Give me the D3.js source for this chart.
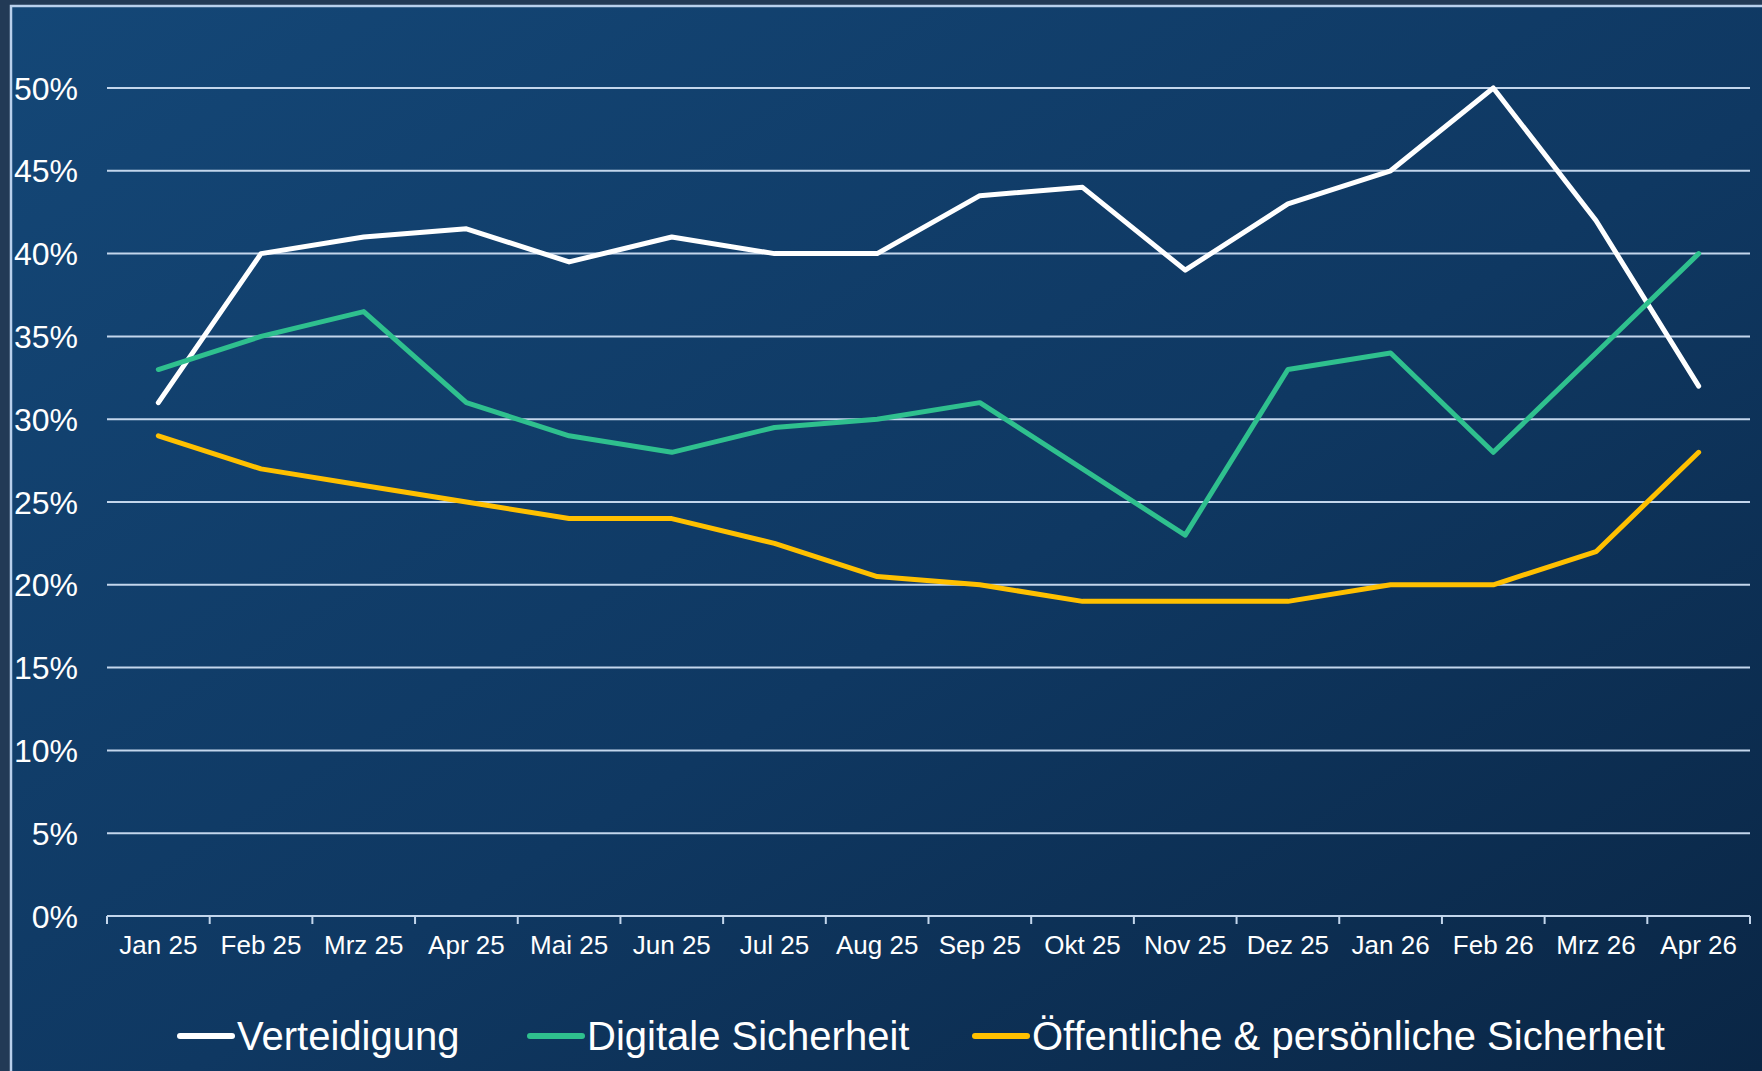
<!DOCTYPE html>
<html>
<head>
<meta charset="utf-8">
<script src="https://cdn.jsdelivr.net/npm/d3@7"></script>
<style>
  html, body { margin: 0; padding: 0; background: #223a56; overflow: hidden; }
  text { font-family: "Liberation Sans", Arial, sans-serif; fill: #ffffff; }
</style>
</head>
<body>
<script>
"use strict";

(function() {

let width = 1762;
let height = 1071;

// data
let months = ['Jan 25', 'Feb 25', 'Mrz 25', 'Apr 25', 'Mai 25', 'Jun 25', 'Jul 25', 'Aug 25',
              'Sep 25', 'Okt 25', 'Nov 25', 'Dez 25', 'Jan 26', 'Feb 26', 'Mrz 26', 'Apr 26'];
let verteidigung = [31, 40, 41, 41.5, 39.5, 41, 40, 40, 43.5, 44, 39, 43, 45, 50, 42, 32];
let digitale = [33, 35, 36.5, 31, 29, 28, 29.5, 30, 31, 27, 23, 33, 34, 28, 34, 40];
let oeffentliche = [29, 27, 26, 25, 24, 24, 22.5, 20.5, 20, 19, 19, 19, 20, 20, 22, 28];
let yTicks = [0, 5, 10, 15, 20, 25, 30, 35, 40, 45, 50];

let series = [
    { name: 'Verteidigung', values: verteidigung, color: '#ffffff' },
    { name: 'Digitale Sicherheit', values: digitale, color: '#2fc08e' },
    { name: 'Öffentliche & persönliche Sicherheit', values: oeffentliche, color: '#ffc000' }
];

let svg = d3.select('body')
    .append('svg')
    .attr('width', width)
    .attr('height', height);

let defs = svg.append('defs');
let grad = defs.append('linearGradient')
    .attr('id', 'bg')
    .attr('x1', '0%').attr('y1', '0%')
    .attr('x2', '100%').attr('y2', '100%');
grad.append('stop').attr('offset', '0%').attr('stop-color', '#144777');
grad.append('stop').attr('offset', '55%').attr('stop-color', '#0f3862');
grad.append('stop').attr('offset', '100%').attr('stop-color', '#0a2645');

// panel with a thin light frame on top and left
svg.append('rect')
    .attr('x', 11).attr('y', 6)
    .attr('width', width - 11).attr('height', height - 6)
    .attr('fill', 'url(#bg)');
svg.append('path')
    .attr('d', 'M11,' + height + 'V6H' + width)
    .attr('fill', 'none')
    .attr('stroke', '#b9d0ec')
    .attr('stroke-width', 2.5);

let margin = { left: 107, right: 12, top: 88, bottom: 155 };
let plotW = width - margin.left - margin.right;
let plotH = height - margin.top - margin.bottom;

let x = d3.scaleBand()
    .domain(months)
    .range([0, plotW]);

let y = d3.scaleLinear()
    .domain([0, 50])
    .range([plotH, 0]);

let g = svg.append('g')
    .attr('transform', 'translate(' + margin.left + ',' + margin.top + ')');

// gridlines
g.selectAll('.grid')
    .data(yTicks.filter(function(d) { return d > 0; }))
    .enter()
    .append('line')
    .attr('class', 'grid')
    .attr('x1', 0).attr('x2', plotW)
    .attr('y1', function(d) { return y(d); })
    .attr('y2', function(d) { return y(d); })
    .attr('stroke', '#c3d6ec')
    .attr('stroke-width', 2);

// y labels
g.selectAll('.ylab')
    .data(yTicks)
    .enter()
    .append('text')
    .attr('class', 'ylab')
    .attr('x', -29)
    .attr('y', function(d) { return y(d); })
    .attr('dy', '0.36em')
    .attr('text-anchor', 'end')
    .style('font-size', '32px')
    .text(function(d) { return d + '%'; });

// x axis with ticks at band edges
let xAxis = g.append('g')
    .attr('transform', 'translate(0,' + plotH + ')');
xAxis.append('line')
    .attr('x1', 0).attr('x2', plotW)
    .attr('stroke', '#c3d6ec').attr('stroke-width', 2);
xAxis.selectAll('.tick')
    .data(d3.range(months.length + 1))
    .enter()
    .append('line')
    .attr('class', 'tick')
    .attr('x1', function(i) { return i * x.step(); })
    .attr('x2', function(i) { return i * x.step(); })
    .attr('y1', 0).attr('y2', 8)
    .attr('stroke', '#c3d6ec').attr('stroke-width', 2);
xAxis.selectAll('.xlab')
    .data(months)
    .enter()
    .append('text')
    .attr('class', 'xlab')
    .attr('x', function(d) { return x(d) + x.bandwidth() / 2; })
    .attr('y', 38)
    .attr('text-anchor', 'middle')
    .style('font-size', '26px')
    .text(function(d) { return d; });

let line = d3.line()
    .x(function(d, i) { return x(months[i]) + x.bandwidth() / 2; })
    .y(function(d) { return y(d); });

g.selectAll('.series')
    .data(series)
    .enter()
    .append('path')
    .attr('class', 'series')
    .attr('d', function(d) { return line(d.values); })
    .attr('fill', 'none')
    .attr('stroke', function(d) { return d.color; })
    .attr('stroke-width', 5)
    .attr('stroke-linejoin', 'round')
    .attr('stroke-linecap', 'round');

// legend
let legendX = [180, 530, 975];
let legend = svg.selectAll('.legend')
    .data(series)
    .enter()
    .append('g')
    .attr('class', 'legend')
    .attr('transform', function(d, i) { return 'translate(' + legendX[i] + ',1036)'; });
legend.append('line')
    .attr('x1', 0).attr('x2', 52)
    .attr('stroke', function(d) { return d.color; })
    .attr('stroke-width', 6)
    .attr('stroke-linecap', 'round');
legend.append('text')
    .attr('x', 57)
    .attr('dy', '0.36em')
    .style('font-size', '40px')
    .text(function(d) { return d.name; });

})();
</script>
</body>
</html>
